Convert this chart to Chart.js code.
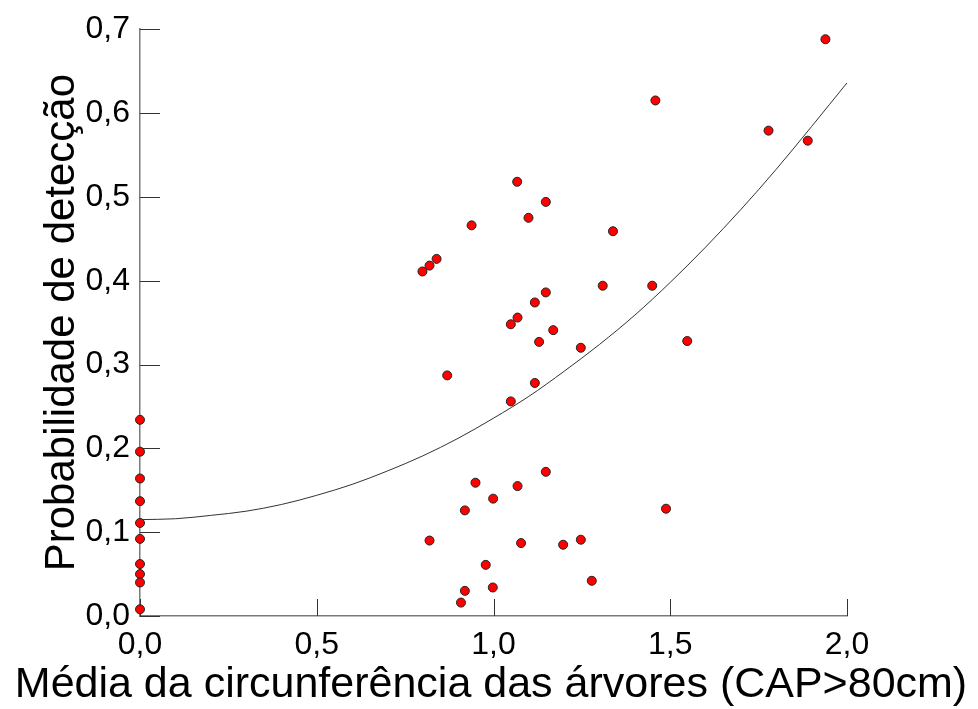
<!DOCTYPE html>
<html>
<head>
<meta charset="utf-8">
<script src="https://cdn.jsdelivr.net/npm/chart.js@4/dist/chart.umd.min.js"></script>
<style>
  html, body { margin: 0; padding: 0; background: #ffffff; }
  #wrap { width: 978px; height: 709px; }
</style>
</head>
<body>
<div id="wrap"><canvas id="chart" width="978" height="709"></canvas></div>
<script>
// Observed plots: mean circumference (x) vs detection probability (y)
const circumference = [
  0, 0, 0, 0, 0, 0, 0, 0, 0, 0,
  1.067, 1.148, 1.099, 0.938, 1.338, 0.839, 0.819, 0.799, 1.309, 1.449,
  1.148, 1.117, 1.068, 1.049, 1.169, 1.129, 1.247, 0.869, 1.117, 1.049,
  1.148, 0.949, 1.068, 0.999, 0.919, 1.488, 0.819, 1.078, 1.197, 1.247,
  0.978, 1.278, 0.919, 0.998, 0.908, 1.939, 1.458, 1.778, 1.889, 1.548
];
const detection = [
  0.234, 0.196, 0.164, 0.137, 0.111, 0.092, 0.062, 0.050, 0.040, 0.008,
  0.518, 0.494, 0.475, 0.466, 0.459, 0.426, 0.418, 0.411, 0.394, 0.394,
  0.386, 0.374, 0.356, 0.348, 0.341, 0.327, 0.320, 0.287, 0.278, 0.256,
  0.172, 0.159, 0.155, 0.140, 0.126, 0.128, 0.090, 0.087, 0.085, 0.091,
  0.061, 0.042, 0.030, 0.034, 0.016, 0.688, 0.615, 0.579, 0.567, 0.328
];

// Fitted trend curve
const fitX = [0.0, 0.1, 0.2, 0.3, 0.4, 0.5, 0.6, 0.7, 0.8, 0.9, 1.0,
              1.1, 1.2, 1.3, 1.4, 1.5, 1.6, 1.7, 1.8, 1.9, 2.0];
const fitY = [0.115, 0.116, 0.120, 0.125, 0.133, 0.144, 0.157, 0.173, 0.191, 0.212, 0.236,
              0.262, 0.292, 0.324, 0.359, 0.398, 0.440, 0.485, 0.533, 0.584, 0.636];

// Axis ticks and labels
const xTicks = [0, 0.5, 1.0, 1.5, 2.0];
const xTickLabels = ['0,0', '0,5', '1,0', '1,5', '2,0'];
const yTicks = [0, 0.1, 0.2, 0.3, 0.4, 0.5, 0.6, 0.7];
const yTickLabels = ['0,0', '0,1', '0,2', '0,3', '0,4', '0,5', '0,6', '0,7'];

const xTitle = 'Média da circunferência das árvores (CAP>80cm)';
const yTitle = 'Probabilidade de detecção';

const points = circumference.map((x, i) => ({ x: x, y: detection[i] }));
const fitLine = fitX.map((x, i) => ({ x: x, y: fitY[i] }));

const FONT = "'Liberation Sans', Arial, sans-serif";

// Tick marks pointing into the plotting area
const innerTicks = {
  id: 'innerTicks',
  beforeDatasetsDraw(chart) {
    const { ctx, chartArea, scales } = chart;
    ctx.save();
    ctx.strokeStyle = '#333333';
    ctx.lineWidth = 1;
    ctx.beginPath();
    yTicks.forEach(v => {
      const py = Math.round(scales.y.getPixelForValue(v)) + 0.5;
      ctx.moveTo(chartArea.left, py);
      ctx.lineTo(chartArea.left + 20, py);
    });
    xTicks.forEach(v => {
      const px = Math.round(scales.x.getPixelForValue(v)) + 0.5;
      ctx.moveTo(px, chartArea.bottom);
      ctx.lineTo(px, chartArea.bottom - 17);
    });
    ctx.stroke();
    ctx.restore();
  }
};

// Horizontal axis title, drawn across the full page width
const bottomTitle = {
  id: 'bottomTitle',
  afterDraw(chart) {
    const { ctx, width } = chart;
    ctx.save();
    ctx.fillStyle = '#000000';
    ctx.font = '43px ' + FONT;
    ctx.textAlign = 'center';
    ctx.textBaseline = 'alphabetic';
    ctx.fillText(xTitle, width / 2 + 2, 697);
    ctx.restore();
  }
};

new Chart(document.getElementById('chart'), {
  type: 'scatter',
  data: {
    datasets: [
      {
        label: 'fit',
        data: fitLine,
        showLine: true,
        borderColor: '#333333',
        borderWidth: 1,
        pointRadius: 0,
        cubicInterpolationMode: 'monotone',
        fill: false,
        order: 2
      },
      {
        label: 'obs',
        data: points,
        backgroundColor: '#ff0000',
        borderColor: '#222222',
        borderWidth: 1,
        pointRadius: 4.5,
        clip: false,
        order: 1
      }
    ]
  },
  options: {
    responsive: false,
    devicePixelRatio: 1,
    animation: false,
    layout: { padding: { top: 26, right: 131, left: 0, bottom: 0 } },
    plugins: {
      legend: { display: false },
      tooltip: { enabled: false }
    },
    scales: {
      x: {
        type: 'linear',
        min: 0,
        max: 2,
        afterFit(scale) { scale.height = 93; },
        afterBuildTicks(scale) { scale.ticks = xTicks.map(v => ({ value: v })); },
        ticks: {
          callback: (v) => xTickLabels[xTicks.indexOf(v)],
          color: '#000000',
          font: { family: FONT, size: 32 },
          padding: 10,
          maxRotation: 0
        },
        grid: { drawOnChartArea: false, drawTicks: false },
        border: { display: true, color: '#7a7a7a', width: 1.5 },
        title: { display: false }
      },
      y: {
        type: 'linear',
        min: 0,
        max: 0.7,
        afterFit(scale) { scale.width = 140; },
        afterBuildTicks(scale) { scale.ticks = yTicks.map(v => ({ value: v })); },
        ticks: {
          callback: (v) => yTickLabels[yTicks.indexOf(v)],
          color: '#000000',
          font: { family: FONT, size: 32 },
          padding: 10
        },
        grid: { drawOnChartArea: false, drawTicks: false },
        border: { display: true, color: '#7a7a7a', width: 1.5 },
        title: {
          display: true,
          text: yTitle,
          color: '#000000',
          font: { family: FONT, size: 42 },
          padding: { top: 37, bottom: 0 }
        }
      }
    }
  },
  plugins: [innerTicks, bottomTitle]
});
</script>
</body>
</html>
